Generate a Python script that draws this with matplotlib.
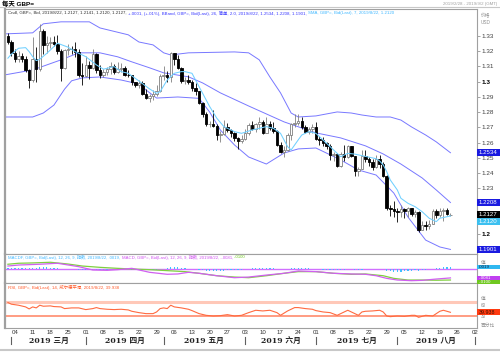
import matplotlib
matplotlib.use('Agg')
import matplotlib.pyplot as plt
import matplotlib.transforms as mtransforms
from matplotlib.patches import Rectangle
import numpy as np
import pandas as pd

plt.rcParams['font.family'] = ['Liberation Sans', 'Noto Sans CJK SC', 'DejaVu Sans']

# ---- 数据 ----
# 交易日 (2019/2/28 - 2019/9/2), K线只到 2019/8/22
axis_days = pd.bdate_range('2019-02-28', '2019-09-02')

opens = [1.3295, 1.3260,
         1.3190, 1.3145, 1.3165, 1.3150, 1.3075,
         1.3010, 1.3150, 1.3080, 1.3330, 1.3240,
         1.3255, 1.3260, 1.3245, 1.3200, 1.3090,
         1.3205, 1.3215, 1.3210, 1.3195, 1.3045,
         1.3035, 1.3110, 1.3090, 1.3180, 1.3075,
         1.3040, 1.3065, 1.3080, 1.3105, 1.3060,
         1.3085, 1.3090, 1.3045, 1.3040, 1.2995,
         1.2975, 1.2990, 1.2920, 1.2895, 1.2905,
         1.2920, 1.2935, 1.3035, 1.3040, 1.3030,
         1.3185, 1.3150, 1.3090, 1.3005, 1.3010,
         1.3000, 1.2955, 1.2935, 1.2860, 1.2785,
         1.2720, 1.2725, 1.2710, 1.2650, 1.2655,
         1.2700, 1.2680, 1.2660, 1.2630, 1.2610,
         1.2625, 1.2665, 1.2715, 1.2690, 1.2725,
         1.2735, 1.2665, 1.2725, 1.2695, 1.2675,
         1.2585, 1.2540, 1.2550, 1.2650, 1.2725,
         1.2730, 1.2740, 1.2700, 1.2670, 1.2690,
         1.2700, 1.2625, 1.2620, 1.2595, 1.2575,
         1.2520, 1.2525, 1.2450, 1.2525, 1.2505,
         1.2575, 1.2510, 1.2415, 1.2430, 1.2510,
         1.2495, 1.2475, 1.2440, 1.2490, 1.2460,
         1.2380, 1.2170, 1.2165, 1.2150, 1.2145,
         1.2165, 1.2150, 1.2170, 1.2135, 1.2145,
         1.2030, 1.2060, 1.2055, 1.2070, 1.2150,
         1.2125, 1.2150, 1.2160, 1.2127]
highs = [1.3315, 1.3270,
         1.3210, 1.3200, 1.3190, 1.3165, 1.3080,
         1.3290, 1.3225, 1.3380, 1.3345, 1.3300,
         1.3290, 1.3300, 1.3305, 1.3215, 1.3210,
         1.3245, 1.3230, 1.3260, 1.3210, 1.3120,
         1.3165, 1.3135, 1.3210, 1.3185, 1.3110,
         1.3085, 1.3095, 1.3130, 1.3115, 1.3130,
         1.3120, 1.3100, 1.3075, 1.3045, 1.3000,
         1.3010, 1.3005, 1.2950, 1.2920, 1.2945,
         1.2975, 1.3050, 1.3105, 1.3070, 1.3195,
         1.3190, 1.3175, 1.3095, 1.3030, 1.3045,
         1.3010, 1.2990, 1.2940, 1.2865, 1.2800,
         1.2745, 1.2815, 1.2720, 1.2675, 1.2750,
         1.2730, 1.2690, 1.2670, 1.2640, 1.2650,
         1.2690, 1.2730, 1.2745, 1.2730, 1.2765,
         1.2750, 1.2765, 1.2745, 1.2735, 1.2685,
         1.2605, 1.2580, 1.2665, 1.2730, 1.2785,
         1.2785, 1.2765, 1.2715, 1.2705, 1.2720,
         1.2735, 1.2645, 1.2640, 1.2605, 1.2590,
         1.2540, 1.2530, 1.2540, 1.2585, 1.2585,
         1.2580, 1.2515, 1.2440, 1.2555, 1.2555,
         1.2505, 1.2490, 1.2520, 1.2520, 1.2475,
         1.2385, 1.2195, 1.2215, 1.2175, 1.2195,
         1.2175, 1.2180, 1.2175, 1.2160, 1.2150,
         1.2090, 1.2085, 1.2095, 1.2165, 1.2165,
         1.2175, 1.2170, 1.2175, 1.2141]
lows = [1.3245, 1.3165,
        1.3130, 1.3130, 1.3130, 1.3060, 1.2960,
        1.2995, 1.3000, 1.3070, 1.3180, 1.3190,
        1.3220, 1.3230, 1.3180, 1.3005, 1.3085,
        1.3175, 1.3180, 1.3160, 1.3030, 1.2975,
        1.3030, 1.3015, 1.3080, 1.3055, 1.3020,
        1.3030, 1.3040, 1.3050, 1.3050, 1.3055,
        1.3060, 1.3035, 1.3030, 1.2980, 1.2965,
        1.2960, 1.2910, 1.2885, 1.2865, 1.2880,
        1.2905, 1.2930, 1.3010, 1.3000, 1.3000,
        1.3110, 1.3080, 1.2990, 1.2985, 1.2985,
        1.2940, 1.2910, 1.2850, 1.2770, 1.2710,
        1.2700, 1.2700, 1.2620, 1.2605, 1.2650,
        1.2670, 1.2635, 1.2610, 1.2560, 1.2595,
        1.2620, 1.2650, 1.2680, 1.2670, 1.2690,
        1.2655, 1.2660, 1.2680, 1.2665, 1.2580,
        1.2535, 1.2505, 1.2545, 1.2620, 1.2700,
        1.2715, 1.2690, 1.2660, 1.2655, 1.2665,
        1.2615, 1.2585, 1.2580, 1.2560, 1.2485,
        1.2480, 1.2440, 1.2440, 1.2480, 1.2500,
        1.2505, 1.2380, 1.2380, 1.2425, 1.2475,
        1.2445, 1.2420, 1.2435, 1.2435, 1.2375,
        1.2160, 1.2120, 1.2115, 1.2080, 1.2110,
        1.2105, 1.2115, 1.2120, 1.2115, 1.2015,
        1.2025, 1.2030, 1.2035, 1.2065, 1.2105,
        1.2115, 1.2090, 1.2125, 1.2120]
closes = [1.3260, 1.3190,
          1.3145, 1.3165, 1.3150, 1.3075, 1.3010,
          1.3150, 1.3080, 1.3330, 1.3240, 1.3255,
          1.3260, 1.3245, 1.3200, 1.3090, 1.3205,
          1.3215, 1.3210, 1.3195, 1.3045, 1.3035,
          1.3110, 1.3090, 1.3180, 1.3075, 1.3040,
          1.3065, 1.3080, 1.3105, 1.3060, 1.3085,
          1.3090, 1.3045, 1.3040, 1.2995, 1.2975,
          1.2990, 1.2920, 1.2895, 1.2905, 1.2920,
          1.2935, 1.3035, 1.3040, 1.3030, 1.3185,
          1.3150, 1.3090, 1.3005, 1.3010, 1.3000,
          1.2955, 1.2935, 1.2860, 1.2785, 1.2720,
          1.2725, 1.2710, 1.2650, 1.2655, 1.2700,
          1.2680, 1.2660, 1.2630, 1.2610, 1.2625,
          1.2665, 1.2715, 1.2690, 1.2725, 1.2735,
          1.2665, 1.2725, 1.2695, 1.2675, 1.2585,
          1.2540, 1.2550, 1.2650, 1.2725, 1.2730,
          1.2740, 1.2700, 1.2670, 1.2690, 1.2700,
          1.2625, 1.2620, 1.2595, 1.2575, 1.2520,
          1.2525, 1.2450, 1.2525, 1.2505, 1.2575,
          1.2510, 1.2415, 1.2430, 1.2510, 1.2495,
          1.2475, 1.2440, 1.2490, 1.2460, 1.2380,
          1.2170, 1.2165, 1.2150, 1.2145, 1.2165,
          1.2150, 1.2170, 1.2135, 1.2145, 1.2030,
          1.2060, 1.2055, 1.2070, 1.2150, 1.2125,
          1.2150, 1.2160, 1.2130, 1.2127]

# 布林带 (26, 2.0) - 按交易日序号读取
bb_up_idx = [-1, 7, 10, 15, 23, 26, 34, 37, 41, 44, 46, 51, 64, 68, 71, 74, 77, 80, 82,
             87, 93, 97, 100, 104, 108, 111, 114, 118, 121, 125]
bb_up_val = [1.3312, 1.3319, 1.3378, 1.3391, 1.3391, 1.3351, 1.3306, 1.3259, 1.3240, 1.3188,
             1.3174, 1.3188, 1.3194, 1.3188, 1.3142, 1.3030, 1.2926, 1.2794, 1.2768,
             1.2775, 1.2801, 1.2794, 1.2781, 1.2768, 1.2768, 1.2748, 1.2703, 1.2650, 1.2605, 1.2534]
bb_mid_idx = [-1, 7, 15, 20, 26, 31, 35, 40, 44, 51, 55, 60, 68, 78, 87, 94, 101, 106,
              111, 117, 121, 125]
bb_mid_val = [1.3043, 1.3076, 1.3142, 1.3188, 1.3188, 1.3162, 1.3129, 1.3090, 1.3057, 1.3031,
              1.2991, 1.2926, 1.2840, 1.2736, 1.2664, 1.2631, 1.2579, 1.2526, 1.2460, 1.2369,
              1.2290, 1.2208]
bb_low_idx = [-1, 7, 10, 13, 16, 18, 21, 26, 32, 37, 39, 42, 48, 54, 57, 60, 64, 68, 73,
              78, 82, 87, 94, 99, 104, 109, 113, 118, 122, 125]
bb_low_val = [1.2768, 1.2768, 1.2794, 1.2846, 1.2950, 1.3005, 1.3024, 1.3030, 1.3010, 1.2984,
              1.2945, 1.2892, 1.2899, 1.2890, 1.2800, 1.2683, 1.2585, 1.2506, 1.2460,
              1.2532, 1.2559, 1.2565, 1.2487, 1.2421, 1.2388, 1.2270, 1.2113, 1.1962, 1.1917, 1.1901]

# SMA 7
sma_idx = [0, 1, 3, 5, 6, 7, 8, 9, 11, 13, 14, 17, 19, 22, 25, 27, 30, 32, 34, 37, 40, 42,
           43, 45, 47, 49, 50, 52, 53, 55, 57, 59, 61, 64, 66, 69, 71, 73, 75, 77, 79, 80,
           82, 83, 85, 87, 90, 93, 94, 96, 98, 101, 104, 105, 106, 107, 108, 110, 111, 113,
           115, 117, 119, 121, 122, 125]
sma_val = [1.3153, 1.3180, 1.3218, 1.3222, 1.3196, 1.3163, 1.3137, 1.3146, 1.3185, 1.3229,
           1.3251, 1.3225, 1.3196, 1.3163, 1.3109, 1.3081, 1.3098, 1.3065, 1.3054, 1.3004,
           1.2952, 1.2923, 1.2934, 1.3010, 1.3054, 1.3065, 1.3065, 1.3054, 1.3010, 1.2923,
           1.2836, 1.2760, 1.2705, 1.2672, 1.2661, 1.2683, 1.2694, 1.2705, 1.2694, 1.2661,
           1.2574, 1.2552, 1.2618, 1.2650, 1.2672, 1.2661, 1.2596, 1.2530, 1.2508, 1.2530,
           1.2525, 1.2510, 1.2495, 1.2480, 1.2455, 1.2410, 1.2356, 1.2290, 1.2236, 1.2203,
           1.2181, 1.2148, 1.2105, 1.2083, 1.2105, 1.2120]

# MACD (12, 26, 9)
macd_idx = [0, 3, 9, 14, 20, 24, 28, 31, 35, 40, 45, 48, 51, 54, 59, 64, 68, 73, 78, 82,
            87, 92, 97, 101, 104, 107, 110, 114, 117, 121, 125]
macd_val = [0.0027, 0.0036, 0.0043, 0.0052, 0.0021, -0.0009, -0.0012, -0.0006, 0.0006,
            -0.0030, -0.0048, -0.0045, -0.0030, -0.0039, -0.0061, -0.0079, -0.0073, -0.0055,
            -0.0039, -0.0018, -0.0024, -0.0039, -0.0045, -0.0048, -0.0061, -0.0085, -0.0100,
            -0.0106, -0.0103, -0.0091, -0.0081]
signal_idx = [0, 3, 7, 12, 17, 21, 26, 31, 35, 40, 45, 50, 54, 59, 64, 68, 73, 78, 82, 87,
              92, 97, 101, 106, 109, 113, 117, 121, 125]
signal_val = [0.0043, 0.0052, 0.0055, 0.0061, 0.0045, 0.0027, 0.0015, 0.0006, 0.0000,
              -0.0006, -0.0015, -0.0024, -0.0039, -0.0061, -0.0073, -0.0079, -0.0061, -0.0039,
              -0.0024, -0.0024, -0.0039, -0.0048, -0.0045, -0.0061, -0.0085, -0.0100, -0.0100,
              -0.0102, -0.0100]
macd_hist = [0.0008, 0.0010,
             0.0012, 0.0012, 0.0010, 0.0008, 0.0006,
             0.0008, 0.0008, 0.0014, 0.0014, 0.0014,
             0.0012, 0.0010, 0.0008, 0.0002, 0.0004,
             0.0004, 0.0003, 0.0002, -0.0005, -0.0008,
             -0.0008, -0.0008, -0.0005, -0.0006, -0.0008,
             -0.0007, -0.0005, -0.0003, -0.0003, -0.0002,
             -0.0001, -0.0002, -0.0003, -0.0005, -0.0006,
             -0.0006, -0.0008, -0.0010, -0.0010, -0.0008,
             -0.0006, 0.0000, 0.0004, 0.0006, 0.0015,
             0.0018, 0.0016, 0.0010, 0.0006, 0.0004,
             0.0000, -0.0003, -0.0008, -0.0013, -0.0018,
             -0.0019, -0.0019, -0.0021, -0.0019, -0.0014,
             -0.0012, -0.0010, -0.0010, -0.0009, -0.0006,
             -0.0002, 0.0003, 0.0006, 0.0009, 0.0012,
             0.0011, 0.0013, 0.0012, 0.0010, 0.0004,
             -0.0001, -0.0004, 0.0000, 0.0005, 0.0008,
             0.0010, 0.0009, 0.0006, 0.0005, 0.0004,
             0.0000, -0.0003, -0.0005, -0.0007, -0.0010,
             -0.0011, -0.0013, -0.0010, -0.0008, -0.0004,
             -0.0004, -0.0008, -0.0009, -0.0005, -0.0003,
             -0.0002, -0.0003, 0.0000, 0.0000, -0.0003,
             -0.0015, -0.0022, -0.0025, -0.0026, -0.0024,
             -0.0021, -0.0017, -0.0014, -0.0011, -0.0014,
             -0.0011, -0.0008, -0.0004, 0.0002, 0.0006,
             0.0010, 0.0014, 0.0017, 0.0019]

# RSI 14
rsi_idx = [0, 1, 3, 5, 6, 7, 8, 9, 10, 12, 13, 15, 16, 18, 20, 22, 24, 25, 26, 28, 30, 32,
           34, 35, 37, 39, 41, 42, 43, 44, 45, 46, 47, 49, 51, 52, 54, 56, 58, 60, 62, 64,
           66, 68, 70, 72, 74, 76, 77, 79, 81, 82, 84, 86, 87, 89, 91, 93, 95, 96, 98, 99,
           100, 101, 103, 105, 106, 107, 108, 110, 112, 114, 115, 116, 118, 120, 121, 122,
           123, 124, 125]
rsi_val = [69, 64, 61, 56, 50, 56, 53, 61, 58, 59, 57, 56, 51, 53, 53, 48, 51, 54, 51, 49,
           48, 49, 47, 43, 39, 36, 36, 41, 51, 53, 51, 61, 56, 53, 49, 45, 36, 31, 29, 30,
           33, 29, 31, 39, 46, 44, 46, 39, 31, 44, 54, 54, 51, 49, 45, 41, 39, 31, 41, 46,
           36, 31, 41, 43, 44, 46, 41, 29, 27, 29, 28, 31, 31, 25, 31, 29, 36, 43, 46, 43,
           39.938]

price_ticks = [1.20, 1.21, 1.22, 1.23, 1.24, 1.25, 1.26, 1.27, 1.28, 1.29, 1.30, 1.31, 1.32, 1.33]
month_names = ['2019 三月', '2019 四月', '2019 五月', '2019 六月', '2019 七月', '2019 八月']

# ---- 画布 ----
W, H = 500, 352
fig = plt.figure(figsize=(W / 100, H / 100), dpi=100)
fig.patch.set_facecolor('white')


def rect(x0, y0, x1, y1):
    return [x0 / W, 1 - y1 / H, (x1 - x0) / W, (y1 - y0) / H]


ax = fig.add_axes(rect(5, 9, 477, 254))
axm = fig.add_axes(rect(5, 254, 477, 283), sharex=ax)
axr = fig.add_axes(rect(5, 283, 477, 327.5), sharex=ax)

grey = '#a0a0a0'
for a in (ax, axm, axr):
    for s in a.spines.values():
        s.set_color(grey)
        s.set_linewidth(0.8)
    a.spines['left'].set_linewidth(1.6)
    a.set_facecolor('white')
    a.tick_params(axis='x', length=0, labelbottom=False)

# ---- K线 ----
n = len(closes)
x = np.arange(n)
o = np.array(opens)
c = np.array(closes)
up = c >= o
wick_col = np.where(up, '#808080', '#000000')
ax.vlines(x, lows, highs, colors=wick_col, linewidth=0.6, zorder=3)
body_lo = np.minimum(o, c)
body_h = np.maximum(np.abs(c - o), 0.00015)
ax.bar(x[up], body_h[up], bottom=body_lo[up], width=0.7, color='white',
       edgecolor='#808080', linewidth=0.6, zorder=4)
ax.bar(x[~up], body_h[~up], bottom=body_lo[~up], width=0.7, color='black',
       edgecolor='black', linewidth=0.6, zorder=4)

# 布林带 + SMA
band_col = '#7878ff'
ax.plot(bb_up_idx, bb_up_val, color=band_col, lw=0.7, zorder=2)
ax.plot(bb_mid_idx, bb_mid_val, color=band_col, lw=0.7, zorder=2)
ax.plot(bb_low_idx, bb_low_val, color=band_col, lw=0.7, zorder=2)
ax.plot(sma_idx, sma_val, color='#70d0ff', lw=0.75, zorder=5)

ax.set_xlim(-0.82, 132.5)
ax.set_ylim(1.1871, 1.3475)

# 右侧价格轴 (1.21 / 1.22 被价签盖住)
ax.yaxis.tick_right()
ax.set_yticks(price_ticks, ['' if v in (1.21, 1.22) else '%g' % v for v in price_ticks])
ax.tick_params(axis='y', length=2, width=0.5, color='#808080', labelsize=4.6,
               labelcolor='#404040', pad=1.5)
for lab, v in zip(ax.get_yticklabels(), price_ticks):
    if v in (1.2, 1.3):
        lab.set_fontweight('bold')
        lab.set_color('#000000')

# ---- MACD ----
axm.axhline(0, color='#d070ff', lw=1.0, zorder=1)
axm.bar(x, macd_hist, width=0.35, color='#40c0ff', zorder=2)
axm.plot(signal_idx, signal_val, color='#80d040', lw=0.9, zorder=3)
axm.plot(macd_idx, macd_val, color='#d060f0', lw=0.9, zorder=4)
axm.set_ylim(-0.0127, 0.0136)
axm.set_yticks([])

# ---- RSI ----
axr.axhline(70, color='#ffc8b8', lw=2.2, zorder=1)
axr.axhline(30, color='#ff9478', lw=1.3, zorder=1)
axr.plot(rsi_idx, rsi_val, color='#ff6a40', lw=0.8, zorder=3)
axr.set_ylim(-5.2, 127)
axr.set_yticks([])

# 日期轴
mondays = [i for i, d in enumerate(axis_days) if d.weekday() == 0]
axr.set_xticks(mondays, [axis_days[i].strftime('%d') for i in mondays])
axr.tick_params(axis='x', labelbottom=True, labelsize=4.4, labelcolor='#333333', pad=1.5)

month_starts = [i for i, d in enumerate(axis_days) if i > 0 and d.month != axis_days[i - 1].month]
tb = mtransforms.blended_transform_factory(axr.transData, axr.transAxes)
for i in month_starts:
    axr.plot([i, i], [-0.215, -0.37], color='#606060', lw=0.8, transform=tb, clip_on=False)
for k, name in enumerate(month_names):
    mid = (month_starts[k] + month_starts[k + 1]) / 2
    axr.text(mid, -0.295, name, transform=tb, ha='center', va='center', fontsize=5.6,
             fontweight='bold', color='#222222',
             family=['DejaVu Serif', 'Noto Sans CJK SC'])

# ---- 右侧价签 ----
ident = mtransforms.IdentityTransform()


def tags(a, items, h, fs):
    prev = None
    for val, txt, bg, fg in items:
        yd = a.transData.transform((0, val))[1]
        if prev is not None and prev - yd < h:
            yd = prev - h
        prev = yd
        fig.add_artist(Rectangle((477, yd - h / 2), 23, h, transform=ident,
                                 facecolor=bg, edgecolor='none', zorder=10))
        fig.text(478.5 / W, yd / H, txt, color=fg, fontsize=fs, ha='left', va='center',
                 zorder=11)


tags(ax, [(1.2534, '1.2534', '#1a1ae0', 'white'),
          (1.2208, '1.2208', '#1a1ae0', 'white'),
          (1.2127, '1.2127', '#000000', 'white'),
          (1.2120, '1.2120', '#3cc0f0', 'white'),
          (1.1901, '1.1901', '#1a1ae0', 'white')], 7, 4.4)
tags(axm, [(0.0019, '.0019', '#30b8f0', '#102040'),
           (-0.0081, '-.0081', '#c040f0', '#ffffff'),
           (-0.0100, '-.0100', '#70c820', '#ffffff')], 4.2, 3.2)
tags(axr, [(39.938, '39.938', '#ff3a10', '#401000')], 6, 3.8)

# 右侧小字
for txt, yy in [('价格', 16), ('USD', 23), ('值', 262), ('值', 298), ('60', 305.5),
                ('30', 316.5), ('百分比', 325)]:
    fig.text(481 / W, 1 - yy / H, txt, fontsize=3.4, color='#909090', ha='left', va='center')

# ---- 标题行 ----
fig.text(2 / W, 1 - 4 / H, '每天 GBP=', fontsize=4.6, fontweight='bold', color='#000000',
         ha='left', va='center', family=['Liberation Sans', 'Noto Sans CJK SC'])
fig.text(497 / W, 1 - 4 / H, '2019/2/28 - 2019/9/2 (GMT)', fontsize=3.2, color='#a0a0a0',
         ha='right', va='center')
fig.add_artist(plt.Line2D([0, 1], [1 - 7 / H, 1 - 7 / H], color='#c8c8c8', lw=0.8))

renderer = fig.canvas.get_renderer()


def color_row(x0, y0, parts, fs):
    xx = x0
    for txt, col in parts:
        t = fig.text(xx / W, 1 - y0 / H, txt, color=col, fontsize=fs, ha='left', va='center')
        xx += t.get_window_extent(renderer).width + 1.5


color_row(8, 13, [('Cndl, GBP=, Bid, 2019/8/22, 1.2127, 1.2141, 1.2120, 1.2127,', '#303030'),
                  ('+.0001, (+.01%), BBand, GBP=, Bid(Last), 26, 简单, 2.0, 2019/8/22, 1.2534, 1.2208, 1.1901,', '#3a3aff'),
                  ('SMA, GBP=, Bid(Last), 7, 2019/8/22, 1.2120', '#40b8ff')], 3.15)
color_row(8, 257.5, [('MACDF, GBP=, Bid(Last), 12, 26, 9, 指数, 2019/8/22, .0019,', '#40b8ff'),
                     ('MACD, GBP=, Bid(Last), 12, 26, 9, 指数, 2019/8/22, -.0081,', '#d050f0'),
                     ('-.0100', '#70c820')], 3.1)
color_row(8, 287, [('RSI, GBP=, Bid(Last), 14, 威尔德平滑, 2019/8/22, 39.938', '#ff5a2a')], 3.15)

# 底部边框
fig.add_artist(plt.Line2D([0, 1], [1 - 349.5 / H, 1 - 349.5 / H], color='#c8c8c8', lw=1.5))

fig.savefig('out.png', dpi=100, facecolor='white')
